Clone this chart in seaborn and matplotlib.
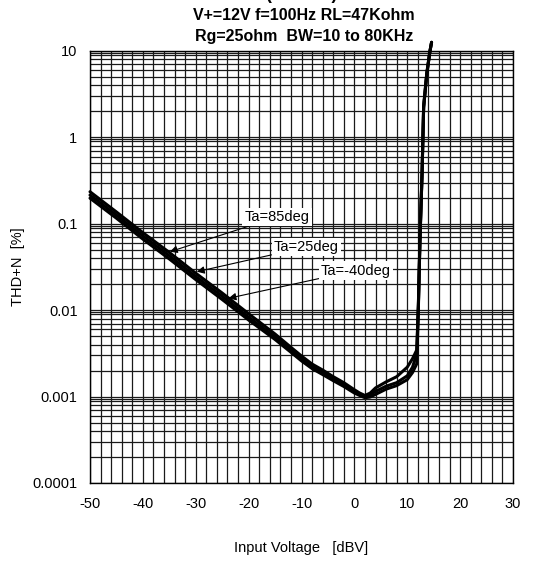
import matplotlib
matplotlib.use("Agg")
import matplotlib.pyplot as plt
import seaborn as sns
import pandas as pd
import numpy as np
from matplotlib.ticker import FixedLocator, NullFormatter

# ---- data ----
input_dbv = [-50, -45, -40, -35, -30, -25, -20, -15, -12, -10, -8, -6, -4, -2, 0, 1, 2, 3, 4,
             6, 8, 10, 11, 11.8, 12.1, 12.4, 12.8, 13.1, 13.7, 14.3, 14.6]
thd_85 = [0.235, 0.137, 0.0790, 0.0466, 0.0268, 0.0158, 0.0091, 0.00530, 0.00372, 0.00295,
          0.00238, 0.00203, 0.00170, 0.00145, 0.00120, 0.0011, 0.00103, 0.0011, 0.00126,
          0.00148, 0.0017, 0.00219, 0.00275, 0.00347, 0.0115, 0.066, 0.39, 2.3, 5.6, 10.0, 12.6]
thd_25 = [0.215, 0.126, 0.0724, 0.0427, 0.0245, 0.0145, 0.0083, 0.0049, 0.00347, 0.00275,
          0.00224, 0.0019, 0.00162, 0.00138, 0.00115, 0.00107, 0.0010, 0.00105, 0.00115,
          0.00132, 0.00145, 0.00174, 0.00219, 0.00316, 0.011, 0.0646, 0.385, 2.26, 5.5, 10.0, 12.6]
thd_m40 = [0.198, 0.116, 0.0665, 0.0392, 0.0226, 0.0133, 0.0077, 0.00458, 0.00326, 0.00259,
           0.00211, 0.00180, 0.00153, 0.00131, 0.00110, 0.00103, 0.00097, 0.00099, 0.00106,
           0.00122, 0.00134, 0.00157, 0.0019, 0.0024, 0.0102, 0.062, 0.37, 2.2, 5.4, 10.0, 12.6]
series_names = ["Ta=85deg", "Ta=25deg", "Ta=-40deg"]
x_ticks = [-50, -40, -30, -20, -10, 0, 10, 20, 30]
y_ticks = [0.0001, 0.001, 0.01, 0.1, 1, 10]
y_tick_labels = ["0.0001", "0.001", "0.01", "0.1", "1", "10"]
title_lines = ["V+=12V f=100Hz RL=47Kohm", "Rg=25ohm  BW=10 to 80KHz"]

df = pd.concat([
    pd.DataFrame({"x": input_dbv, "y": vals, "Ta": name})
    for name, vals in zip(series_names, [thd_85, thd_25, thd_m40])
])

sns.set_style("white")
plt.rcParams["font.family"] = ["Liberation Sans", "DejaVu Sans"]
plt.rcParams["text.color"] = "black"
plt.rcParams["axes.labelcolor"] = "black"
plt.rcParams["xtick.color"] = "black"
plt.rcParams["ytick.color"] = "black"

fig = plt.figure(figsize=(5.33, 5.62), dpi=100)
ax = fig.add_axes([90 / 533, 1 - 483 / 562, (513 - 90) / 533, (483 - 51) / 562])

sns.lineplot(data=df, x="x", y="y", hue="Ta", palette=["black"] * 3, legend=False,
             linewidth=2.2, ax=ax, estimator=None, sort=False)
for ln in ax.lines:
    ln.set_clip_on(False)
    ln.set_zorder(5)

ax.set_yscale("log")
ax.set_xlim(-50, 30)
ax.set_ylim(1e-4, 10)

ax.set_xticks(x_ticks)
ax.set_xticklabels([str(t) for t in x_ticks])
ax.xaxis.set_minor_locator(FixedLocator(np.arange(-50, 31, 2)))
ax.set_yticks(y_ticks)
ax.set_yticklabels(y_tick_labels)
minors = []
for d in [1e-4, 1e-3, 1e-2, 1e-1, 1]:
    for m in [2, 3, 4, 5, 6, 7, 8, 9, 9.5]:
        minors.append(d * m)
ax.yaxis.set_minor_locator(FixedLocator(minors))
ax.yaxis.set_minor_formatter(NullFormatter())

ax.grid(True, which="both", color="#1a1a1a", linewidth=0.9)
ax.set_axisbelow(True)
ax.tick_params(which="both", length=0)
ax.tick_params(axis="x", labelsize=10.5, pad=10)
ax.tick_params(axis="y", labelsize=10.5, pad=9)
for s in ax.spines.values():
    s.set_color("black")
    s.set_linewidth(1.0)

ax.set_xlabel("Input Voltage   [dBV]", fontsize=10.5, labelpad=22)
ax.set_ylabel("THD+N  [%]", fontsize=10.5, labelpad=5)

# annotations
ann = [
    ("Ta=85deg", (-14.6, 0.12), (-34.9, 0.0475)),
    ("Ta=25deg", (-9.1, 0.0538), (-29.8, 0.0279)),
    ("Ta=-40deg", (0.3, 0.0288), (-23.8, 0.01374)),
]
for txt, pos, head in ann:
    ax.annotate(txt, xy=head, xytext=pos, fontsize=10.5, ha="center", va="center",
                bbox=dict(boxstyle="square,pad=0.15", facecolor="white", edgecolor="none"),
                arrowprops=dict(arrowstyle="-|>", color="black", lw=0.8,
                                mutation_scale=11, shrinkA=0, shrinkB=0),
                zorder=6)

# title
fig.text(301 / 533, 1.0015, "(THD+N)", ha="center", va="baseline",
         fontsize=13, fontweight="bold")
fig.text(304 / 533, 1 - 15.7 / 562, title_lines[0], ha="center", va="center",
         fontsize=11.5, fontweight="bold")
fig.text(304 / 533, 1 - 36.2 / 562, title_lines[1], ha="center", va="center",
         fontsize=11.5, fontweight="bold")

fig.savefig("out.png", dpi=100)
